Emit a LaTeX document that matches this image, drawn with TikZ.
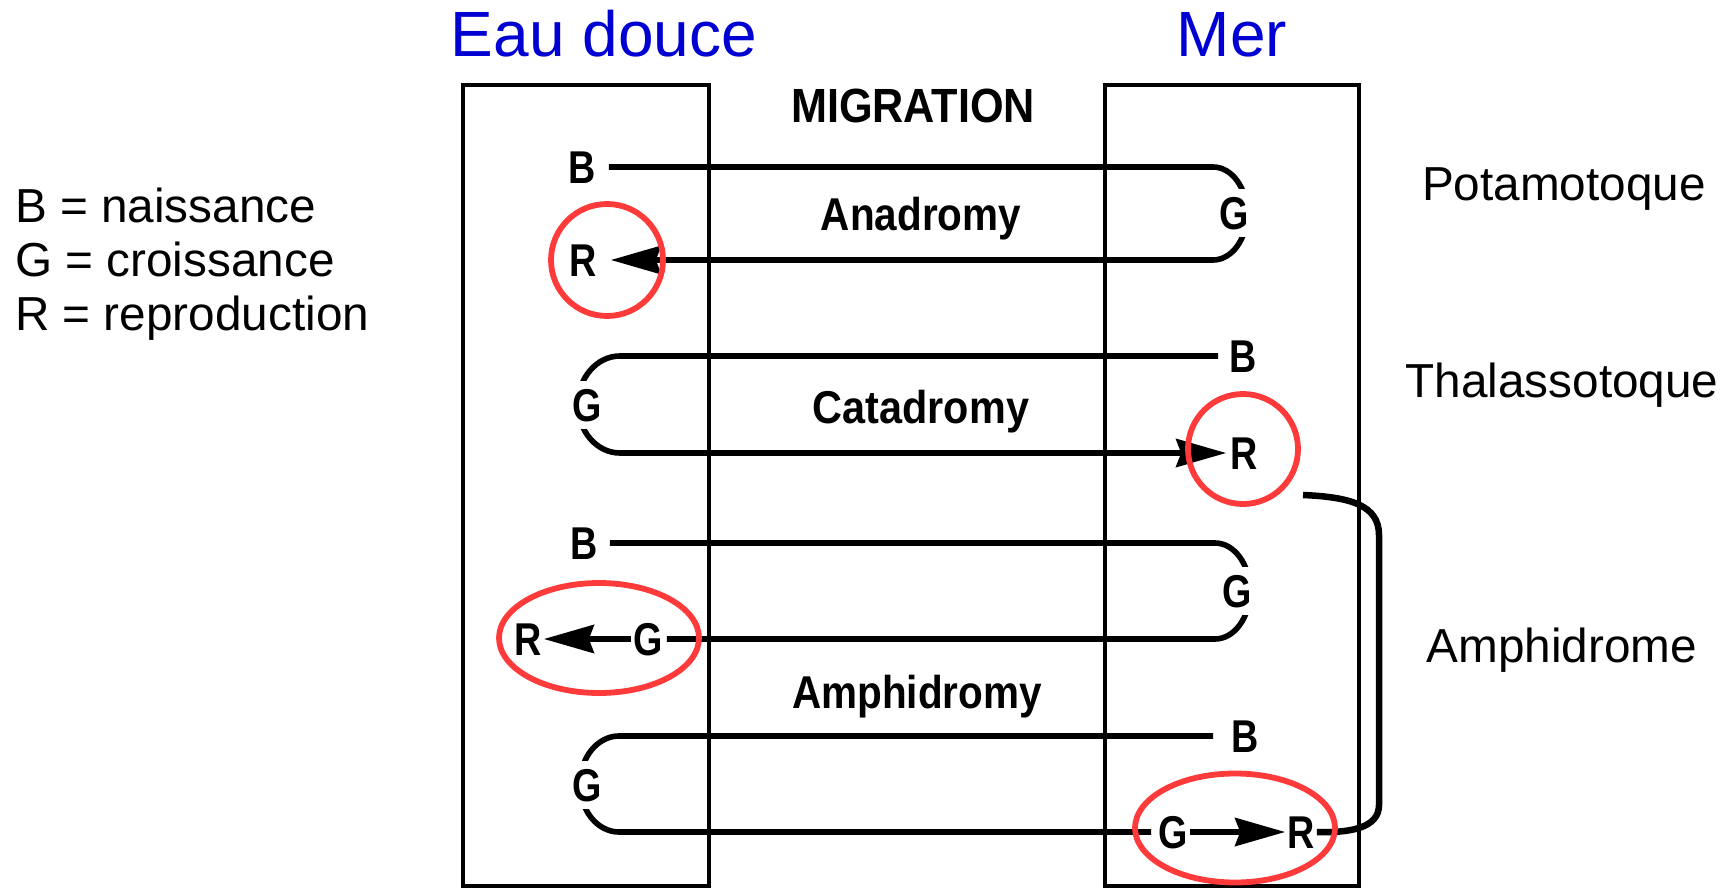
\documentclass[tikz,border=0pt]{standalone}
\usepackage{fontspec}
\setmainfont{Liberation Sans}
\usepackage{graphicx}
\usetikzlibrary{arrows.meta,backgrounds}
\definecolor{titleblue}{RGB}{0,0,210}
\definecolor{markred}{RGB}{255,58,58}
\newcommand\scanletter[1]{\fontsize{46}{46}\selectfont\bfseries\scalebox{0.82}[1]{#1}}
\newcommand\scanword[2]{\fontsize{46}{46}\selectfont\bfseries\scalebox{#1}[1]{#2}}
\tikzset{
  titletext/.style={anchor=base, text=titleblue, font=\fontsize{64}{64}\selectfont, inner sep=0pt},
  legendtext/.style={anchor=base west, font=\fontsize{47.7}{48}\selectfont, inner sep=0pt},
  sidetext/.style={anchor=base, font=\fontsize{47.7}{48}\selectfont, inner sep=0pt},
  wordtext/.style={anchor=base, inner sep=0pt},
  letter/.style={inner xsep=2pt, inner ysep=8pt, text height=32pt, text depth=0pt, anchor=center},
  turnletter/.style={letter, fill=white},
  zonebox/.style={draw, line width=3.2pt},
  flow/.style={draw, line width=5.6pt},
  flowarrow/.style={flow, -{Stealth[length=50pt, width=28pt, inset=5pt]}},
  link/.style={draw, line width=6.5pt},
  redmark/.style={draw=markred, line width=5.8pt},
}
\begin{document}
\begin{tikzpicture}[x=1pt, y=-1pt]
\useasboundingbox (0,0) rectangle (1726,888);
% titles
\node[titletext] (eau) at (604,57) {Eau douce};
\node[titletext] (mer) at (1232,57) {Mer};
% legend
\node[legendtext] (lb) at (15,222) {B = naissance};
\node[legendtext] (lg) at (15,276) {G = croissance};
\node[legendtext] (lr) at (15,330) {R = reproduction};
% side labels
\node[sidetext] (pota) at (1564,200) {Potamotoque};
\node[sidetext] (thal) at (1562,397) {Thalassotoque};
\node[sidetext] (amph) at (1562,662) {Amphidrome};
% scan words
\node[wordtext] (migr) at (913,123) {\fontsize{48}{48}\selectfont\bfseries\scalebox{0.90}[1]{MIGRATION}};
\node[wordtext] (ana) at (921,230) {\scanword{0.88}{Anadromy}};
\node[wordtext] (cata) at (921,423) {\scanword{0.90}{Catadromy}};
\node[wordtext] (amphy) at (917,708) {\scanword{0.88}{Amphidromy}};
% letters: anadromy
\node[letter] (B1) at (582,167) {\scanletter{B}};
\node[turnletter] (G1) at (1234,213) {\scanletter{G}};
\node[letter] (R1) at (583,260) {\scanletter{R}};
% catadromy
\node[letter] (B2) at (1243,356) {\scanletter{B}};
\node[turnletter] (G2) at (587,405) {\scanletter{G}};
\node[letter] (R2) at (1244,453) {\scanletter{R}};
% amphidromy 1
\node[letter] (B3) at (584,543) {\scanletter{B}};
\node[turnletter] (G3) at (1237,591) {\scanletter{G}};
\node[letter] (G3b) at (648,639) {\scanletter{G}};
\node[letter] (R3) at (528,639) {\scanletter{R}};
% amphidromy 2
\node[letter] (B4) at (1245,736) {\scanletter{B}};
\node[turnletter] (G4) at (587,785) {\scanletter{G}};
\node[letter] (G4b) at (1173,832) {\scanletter{G}};
\node[letter] (R4) at (1301,832) {\scanletter{R}};
\coordinate (linkstart) at (1303,495);
\begin{pgfonlayer}{background}
  \draw[zonebox] (463,85) rectangle (709,886);
  \draw[zonebox] (1105,85) rectangle (1359,886);
  % anadromy
  \draw[flowarrow, shorten <=11pt, shorten >=12pt] (B1.east) -- (1213,167)
     .. controls (1231.8,167) and (1247,187.8) .. (1247,213.5)
     .. controls (1247,239.2) and (1231.8,260) .. (1213,260) -- (R1.east);
  % catadromy
  \draw[flowarrow, shorten <=9pt, shorten >=2pt] (B2.west) -- (620,356)
     .. controls (596.8,356) and (578,377.7) .. (578,404.5)
     .. controls (578,431.3) and (596.8,453) .. (620,453) -- (R2.west);
  % amphidromy 1
  \draw[flow, shorten <=10pt, shorten >=2pt] (B3.east) -- (1215,543)
     .. controls (1234.3,543) and (1250,564.5) .. (1250,591)
     .. controls (1250,617.5) and (1234.3,639) .. (1215,639) -- (G3b.east);
  \draw[flowarrow] (G3b.west) -- (R3.east);
  % amphidromy 2
  \draw[flow, shorten <=16pt, shorten >=5pt] (B4.west) -- (619,736)
     .. controls (597.5,736) and (580,757.5) .. (580,784)
     .. controls (580,810.5) and (597.5,832) .. (619,832) -- (G4b.west);
  \draw[flowarrow] (G4b.east) -- (R4.west);
\end{pgfonlayer}
% link between thalassotoque R and amphidrome R
\draw[link] (linkstart) .. controls (1350,497) and (1379,505) .. (1379,535)
   -- (1379,805) .. controls (1379,828) and (1350,833) .. (R4.east);
% red marks
\draw[redmark] (R1) ++(24,0) ellipse[x radius=56, y radius=56];
\draw[redmark] (1243,449) ellipse[x radius=55, y radius=55];
\draw[redmark] (599,638) ellipse[x radius=100, y radius=55];
\draw[redmark] (1235,828) ellipse[x radius=100, y radius=54.5];
\end{tikzpicture}
\end{document}
